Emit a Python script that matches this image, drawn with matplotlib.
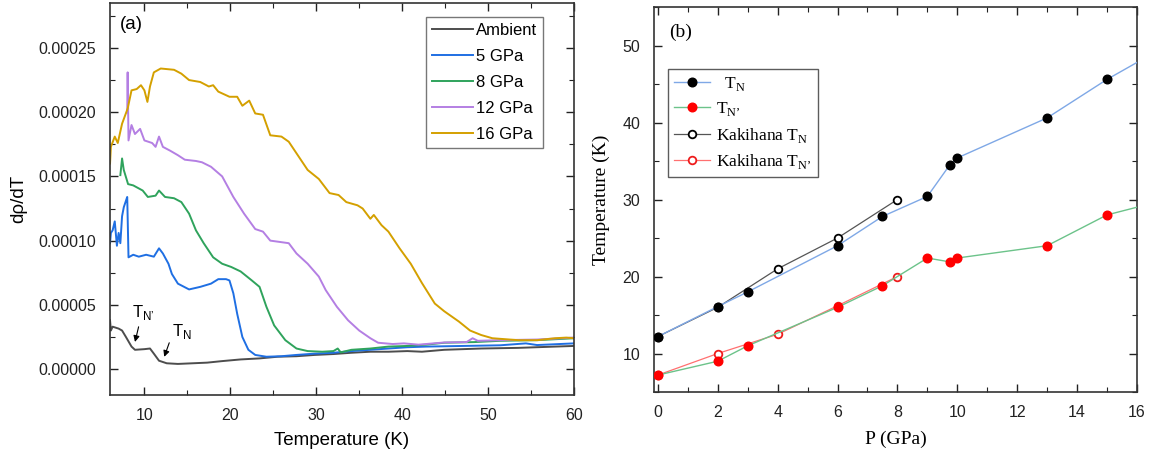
import numpy as np
import matplotlib
matplotlib.use("Agg")
import matplotlib.pyplot as plt
from matplotlib.ticker import MultipleLocator, FormatStrFormatter

plt.rcParams['mathtext.fontset'] = 'custom'
plt.rcParams['mathtext.rm'] = 'Liberation Serif'
plt.rcParams['mathtext.sf'] = 'Liberation Sans'

# ---- panel (a): d rho / dT, values in units of 1e-5 ----
t_amb = [6.0, 6.1, 6.3, 7.0, 7.4, 7.85, 8.5, 8.9, 10.0, 10.65, 11.1, 11.7, 12.6, 13.9, 15.6, 17.3,
         19.05, 21.2, 23.4, 25.5, 27.7, 29.8, 32.0, 34.1, 36.3, 38.4, 40.6, 42.3, 44.9, 49.2, 53.5, 57.8, 60.0]
y_amb = [3.8, 3.0, 3.3, 3.15, 3.0, 2.5, 1.75, 1.5, 1.55, 1.6, 1.2, 0.65, 0.45, 0.4, 0.45, 0.5,
         0.62, 0.75, 0.83, 0.96, 1.0, 1.1, 1.17, 1.27, 1.35, 1.35, 1.4, 1.35, 1.5, 1.6, 1.65, 1.75, 1.8]

t_5 = [6.0, 6.1, 6.3, 6.55, 6.8, 7.0, 7.2, 7.4, 7.6, 7.85, 8.0, 8.15, 8.7, 9.35, 10.2, 11.1, 11.7, 12.15,
       12.8, 13.2, 13.9, 15.2, 16.5, 17.75, 18.6, 19.5, 19.9, 20.35, 20.8, 21.4, 22.1, 22.9, 24.2, 25.95,
       27.7, 29.8, 32.0, 34.1, 36.3, 38.4, 40.6, 42.8, 47.1, 51.4, 54.4, 55.7, 60.0]
y_5 = [9.8, 10.6, 10.8, 11.5, 9.6, 10.6, 9.8, 11.9, 12.6, 13.1, 13.4, 8.7, 8.9, 8.75, 8.9, 8.75, 9.4, 9.0,
       8.2, 7.4, 6.65, 6.2, 6.4, 6.65, 7.0, 7.0, 6.9, 5.9, 4.3, 2.5, 1.5, 1.1, 0.96, 1.0,
       1.1, 1.2, 1.27, 1.4, 1.5, 1.6, 1.7, 1.75, 1.8, 1.85, 2.0, 1.87, 2.0]

t_8 = [7.2, 7.4, 7.6, 8.1, 8.7, 9.8, 10.4, 11.3, 11.7, 12.4, 13.45, 14.3, 15.2, 16.0, 16.9, 18.0, 19.05,
       20.1, 21.2, 22.5, 23.4, 24.2, 25.1, 26.4, 27.7, 29.0, 30.7, 32.0, 32.5, 32.85, 34.1, 36.3, 38.4,
       40.6, 42.8, 44.9, 48.4, 51.4, 55.7, 60.0]
y_8 = [15.1, 16.4, 15.5, 14.4, 14.3, 13.9, 13.4, 13.5, 13.9, 13.4, 13.3, 13.0, 12.1, 10.8, 9.8, 8.7, 8.2,
       7.95, 7.6, 6.9, 6.4, 4.85, 3.4, 2.25, 1.6, 1.4, 1.35, 1.4, 1.6, 1.3, 1.5, 1.6, 1.75,
       1.8, 1.9, 2.05, 2.1, 2.2, 2.25, 2.4]

t_12 = [8.0, 8.05, 8.15, 8.5, 8.9, 9.5, 10.0, 10.9, 11.3, 11.7, 12.15, 13.0, 13.9, 14.7, 16.0, 16.7, 17.75,
        19.05, 20.35, 21.6, 22.9, 23.8, 24.65, 26.8, 27.7, 29.0, 30.3, 31.1, 32.4, 33.7, 35.0, 36.3, 37.2,
        38.9, 40.2, 41.9, 44.9, 47.5, 48.2, 48.8, 51.4, 55.7, 60.0]
y_12 = [20.0, 23.1, 17.8, 19.0, 18.3, 18.7, 17.8, 17.6, 17.3, 18.1, 17.3, 17.0, 16.65, 16.3, 16.2, 16.1, 15.75,
        15.0, 13.4, 12.1, 10.9, 10.7, 10.0, 9.8, 9.0, 8.2, 7.2, 6.15, 4.85, 3.8, 3.0, 2.4, 2.05,
        1.95, 2.0, 1.9, 2.07, 2.1, 2.4, 2.2, 2.25, 2.3, 2.45]

t_16 = [6.0, 6.1, 6.55, 6.9, 7.4, 8.06, 8.5, 9.1, 9.6, 10.0, 10.35, 10.65, 11.1, 11.9, 13.45, 14.3, 15.2,
        16.5, 17.5, 18.0, 18.6, 19.9, 20.8, 21.4, 22.2, 22.9, 23.8, 24.65, 25.95, 26.8, 27.7, 29.0, 30.3,
        31.55, 32.6, 33.5, 34.8, 35.4, 36.3, 36.7, 37.6, 38.4, 39.7, 41.0, 42.3, 43.8, 44.9, 46.6, 47.9,
        49.2, 50.5, 53.5, 55.7, 57.8, 59.1, 60.0]
y_16 = [16.0, 17.3, 18.1, 17.6, 19.1, 20.3, 21.7, 21.8, 22.1, 21.7, 20.8, 22.0, 23.1, 23.4, 23.3, 23.0, 22.5,
        22.35, 22.0, 22.1, 21.6, 21.2, 21.2, 20.5, 20.9, 19.9, 19.8, 18.2, 18.1, 17.7, 16.8, 15.5, 14.8,
        13.7, 13.55, 13.0, 12.75, 12.5, 11.7, 12.0, 11.2, 10.7, 9.4, 8.2, 6.7, 5.1, 4.5, 3.7, 3.0,
        2.65, 2.4, 2.25, 2.25, 2.4, 2.45, 2.4]

series_a = [("Ambient", t_amb, y_amb, "#4d4d4d"),
            ("5 GPa", t_5, y_5, "#1f6fe3"),
            ("8 GPa", t_8, y_8, "#2fa35c"),
            ("12 GPa", t_12, y_12, "#b47fe3"),
            ("16 GPa", t_16, y_16, "#d4a000")]

# ---- panel (b): transition temperatures ----
p_tn = [0, 2, 3, 6, 7.5, 9, 9.75, 10, 13, 15, 17]
tn = [12.2, 16.1, 18.0, 24.0, 27.8, 30.4, 34.5, 35.4, 40.6, 45.6, 50.0]
p_tn2 = [0, 2, 3, 6, 7.5, 9, 9.75, 10, 13, 15, 17]
tn2 = [7.2, 9.0, 11.0, 16.0, 18.8, 22.4, 21.9, 22.4, 24.0, 28.0, 30.0]
p_kak = [0, 2, 4, 6, 8]
kak_tn = [12.2, 16.0, 21.0, 25.0, 30.0]
kak_tn2 = [7.2, 10.0, 12.5, 16.2, 20.0]

fig = plt.figure(figsize=(11.51, 4.62), dpi=100)
ax1 = fig.add_axes([0.0956, 0.145, 0.4031, 0.8485])
ax2 = fig.add_axes([0.5682, 0.1515, 0.4196, 0.8333])

sans = 'Liberation Sans'
serif = 'Liberation Serif'

for name, t, y, c in series_a:
    ax1.plot(t, np.array(y) * 1e-5, color=c, lw=1.4, label=name)

ax1.set_xlim(6, 60)
ax1.set_ylim(-0.0000202, 0.000285)
ax1.xaxis.set_major_locator(MultipleLocator(10))
ax1.xaxis.set_minor_locator(MultipleLocator(5))
ax1.yaxis.set_major_locator(MultipleLocator(0.00005))
ax1.yaxis.set_minor_locator(MultipleLocator(0.000025))
ax1.yaxis.set_major_formatter(FormatStrFormatter('%.5f'))
ax1.set_xlabel('Temperature (K)', family=sans, fontsize=13.5, labelpad=7)
ax1.set_ylabel('d\u03c1/dT', family=sans, fontsize=13.5, labelpad=8)
ax1.text(0.022, 0.944, '(a)', transform=ax1.transAxes, family=sans, fontsize=13.5, va='center')

leg1 = ax1.legend(loc='upper right', bbox_to_anchor=(0.933, 0.964), borderaxespad=0,
                  prop={'family': sans, 'size': 12}, fancybox=False, edgecolor='#555555',
                  handlelength=2.5, handletextpad=0.15, labelspacing=0.66, borderpad=0.35)
leg1.get_frame().set_linewidth(1.0)

ax1.annotate('', xy=(8.83, 1.9e-5), xytext=(9.4, 3.5e-5),
             arrowprops=dict(arrowstyle='-|>', color='black', lw=0.8, mutation_scale=9))
ax1.text(8.5, 4.4e-5, 'T$_{\\mathsf{N\u2019}}$', family=sans, fontsize=12, va='center')
ax1.annotate('', xy=(12.2, 0.75e-5), xytext=(13.0, 2.25e-5),
             arrowprops=dict(arrowstyle='-|>', color='black', lw=0.8, mutation_scale=9))
ax1.text(13.2, 2.9e-5, 'T$_{\\mathsf{N}}$', family=sans, fontsize=12, va='center')

ax2.plot(p_kak, kak_tn, color='#555555', lw=0.9, marker='o', ms=5.5, mfc='white', mec='black',
         mew=1.3, label='Kakihana T$_{\\mathrm{N}}$', zorder=2)
ax2.plot(p_kak, kak_tn2, color='#ff7070', lw=0.9, marker='o', ms=5.5, mfc='white', mec='#ee1c1c',
         mew=1.3, label='Kakihana T$_{\\mathrm{N\u2019}}$', zorder=2)
ax2.plot(p_tn, tn, color='#7fa8e6', lw=1.0, marker='o', ms=6.2, mfc='black', mec='black',
         label='  T$_{\\mathrm{N}}$', zorder=3)
ax2.plot(p_tn2, tn2, color='#6cc38a', lw=1.0, marker='o', ms=6.2, mfc='#ff0000', mec='#ff0000',
         label='T$_{\\mathrm{N\u2019}}$', zorder=3)

ax2.set_xlim(-0.13, 16)
ax2.set_ylim(5, 55)
ax2.xaxis.set_major_locator(MultipleLocator(2))
ax2.xaxis.set_minor_locator(MultipleLocator(1))
ax2.yaxis.set_major_locator(MultipleLocator(10))
ax2.yaxis.set_minor_locator(MultipleLocator(5))
ax2.set_xlabel('P (GPa)', family=serif, fontsize=14, labelpad=8)
ax2.set_ylabel('Temperature (K)', family=serif, fontsize=14, labelpad=9)
ax2.text(0.031, 0.935, '(b)', transform=ax2.transAxes, family=serif, fontsize=14, va='center')

h, l = ax2.get_legend_handles_labels()
order = [2, 3, 0, 1]
leg2 = ax2.legend([h[i] for i in order], [l[i] for i in order], loc='upper left',
                  bbox_to_anchor=(0.028, 0.839), borderaxespad=0,
                  prop={'family': serif, 'size': 12.5}, fancybox=False, edgecolor='#333333',
                  handlelength=2.1, handletextpad=0.35, labelspacing=0.42, borderpad=0.35)
leg2.get_frame().set_linewidth(1.0)

for ax in (ax1, ax2):
    ax.tick_params(which='both', direction='in', top=True, right=True, labelsize=11.5, colors='#222222')
    ax.tick_params(which='major', length=6, width=1.0)
    ax.tick_params(which='minor', length=3.5, width=0.8)
    ax.tick_params(axis='x', which='major', pad=9)
    ax.tick_params(axis='y', which='major', pad=10)
    for lab in ax.get_xticklabels() + ax.get_yticklabels():
        lab.set_family(sans)
    for s in ax.spines.values():
        s.set_linewidth(1.2)
        s.set_color('#333333')

fig.savefig('out.png', dpi=100)
